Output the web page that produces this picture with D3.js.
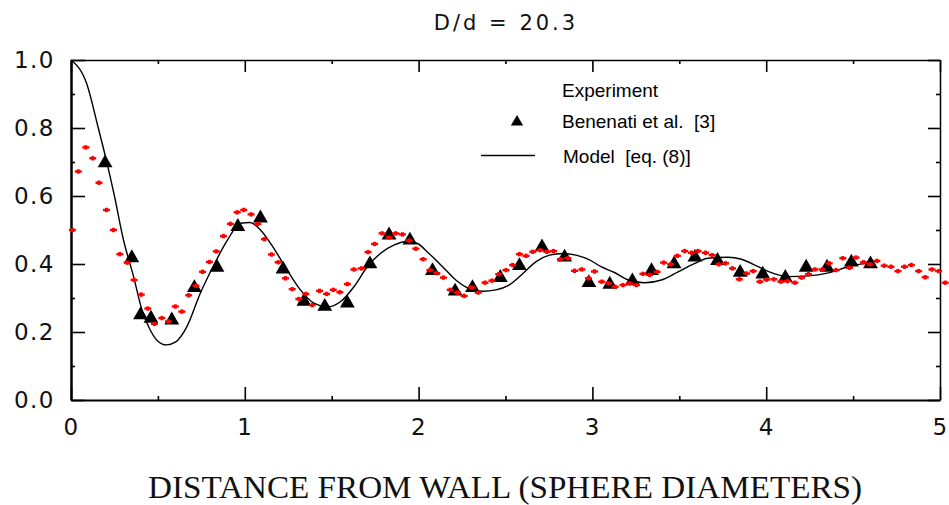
<!DOCTYPE html>
<html>
<head>
<meta charset="utf-8">
<script src="https://cdn.jsdelivr.net/npm/d3@7"></script>
<style>
body { margin: 0; background: #fff; }
</style>
</head>
<body>
<script>
// values
var xTicks = [0, 1, 2, 3, 4, 5];
var xMinor = [0.5, 1.5, 2.5, 3.5, 4.5];
var yTicks = [0, 0.2, 0.4, 0.6, 0.8, 1.0];
var yMinor = [0.1, 0.3, 0.5, 0.7, 0.9];

// Benenati et al. [3] (triangles)
var expX = [0.196, 0.35, 0.40, 0.46, 0.58, 0.71, 0.84, 0.96, 1.09, 1.22, 1.34, 1.46, 1.59,
  1.72, 1.83, 1.95, 2.08, 2.21, 2.31, 2.47, 2.58, 2.71, 2.84, 2.98, 3.10, 3.23, 3.34,
  3.47, 3.59, 3.72, 3.85, 3.98, 4.11, 4.23, 4.35, 4.49, 4.60];
var expY = [0.697, 0.418, 0.25, 0.24, 0.235, 0.33, 0.39, 0.51, 0.535, 0.385, 0.29, 0.275, 0.285,
  0.40, 0.485, 0.47, 0.38, 0.32, 0.33, 0.36, 0.395, 0.45, 0.42, 0.345, 0.34, 0.35, 0.38,
  0.40, 0.42, 0.41, 0.375, 0.37, 0.36, 0.39, 0.39, 0.405, 0.40];

// red dotted series
var redX = [0.008, 0.042, 0.085, 0.125, 0.161, 0.204, 0.244, 0.281, 0.323, 0.363, 0.404, 0.442,
  0.480, 0.523, 0.561, 0.600, 0.638, 0.677, 0.719, 0.757, 0.796, 0.836, 0.877, 0.917, 0.956,
  0.994, 1.036, 1.075, 1.113, 1.153, 1.192, 1.234, 1.273, 1.311, 1.351, 1.388, 1.430, 1.471,
  1.509, 1.547, 1.590, 1.628, 1.671, 1.709, 1.747, 1.790, 1.830, 1.868, 1.907, 1.945, 1.984,
  2.026, 2.065, 2.105, 2.143, 2.182, 2.224, 2.262, 2.305, 2.343, 2.382, 2.422, 2.461, 2.503,
  2.541, 2.580, 2.618, 2.657, 2.699, 2.738, 2.776, 2.816, 2.859, 2.897, 2.939, 2.977, 3.012,
  3.054, 3.093, 3.131, 3.176, 3.214, 3.253, 3.291, 3.329, 3.372, 3.410, 3.450, 3.489, 3.531,
  3.570, 3.608, 3.651, 3.689, 3.727, 3.766, 3.806, 3.845, 3.887, 3.925, 3.964, 4.002, 4.044,
  4.085, 4.123, 4.165, 4.204, 4.243, 4.281, 4.323, 4.362, 4.402, 4.441, 4.479, 4.517, 4.560,
  4.598, 4.637, 4.679, 4.718, 4.758, 4.796, 4.835, 4.877, 4.915, 4.954, 4.992, 5.030];
var redY = [0.50, 0.672, 0.743, 0.711, 0.639, 0.559, 0.50, 0.429, 0.404, 0.353, 0.310, 0.269,
  0.224, 0.241, 0.231, 0.275, 0.260, 0.308, 0.336, 0.377, 0.406, 0.437, 0.482, 0.518, 0.552,
  0.559, 0.546, 0.518, 0.473, 0.428, 0.405, 0.358, 0.326, 0.297, 0.312, 0.279, 0.321, 0.312,
  0.324, 0.317, 0.341, 0.384, 0.387, 0.435, 0.459, 0.490, 0.478, 0.490, 0.487, 0.469, 0.445,
  0.414, 0.382, 0.373, 0.360, 0.324, 0.316, 0.306, 0.331, 0.316, 0.345, 0.351, 0.370, 0.382,
  0.397, 0.429, 0.424, 0.436, 0.441, 0.436, 0.438, 0.414, 0.417, 0.380, 0.384, 0.358, 0.378,
  0.348, 0.343, 0.333, 0.338, 0.343, 0.338, 0.371, 0.368, 0.377, 0.404, 0.399, 0.424, 0.438,
  0.433, 0.438, 0.433, 0.426, 0.399, 0.402, 0.387, 0.355, 0.372, 0.379, 0.348, 0.354, 0.355,
  0.348, 0.350, 0.345, 0.360, 0.370, 0.384, 0.384, 0.402, 0.382, 0.417, 0.389, 0.419, 0.405,
  0.399, 0.409, 0.395, 0.392, 0.379, 0.392, 0.397, 0.379, 0.361, 0.384, 0.379, 0.345];

// Model [eq. (8)] (solid line)
var modelX = [0, 0.09, 0.157, 0.20, 0.25, 0.30, 0.36, 0.41, 0.456, 0.494, 0.55, 0.60, 0.667,
  0.744, 0.82, 0.90, 0.975, 1.03, 1.09, 1.167, 1.244, 1.32, 1.40, 1.474, 1.55, 1.628, 1.705,
  1.78, 1.86, 1.936, 1.99, 2.06, 2.138, 2.214, 2.29, 2.368, 2.445, 2.52, 2.60, 2.676, 2.753,
  2.83, 2.906, 2.983, 3.05, 3.127, 3.205, 3.30, 3.397, 3.493, 3.589, 3.666, 3.78, 3.858,
  3.954, 4.05, 4.127, 4.243, 4.358, 4.473, 4.62];
var modelY = [1.0, 0.931, 0.800, 0.712, 0.600, 0.475, 0.363, 0.262, 0.206, 0.176, 0.162, 0.170,
  0.216, 0.314, 0.395, 0.470, 0.520, 0.522, 0.500, 0.446, 0.382, 0.324, 0.284, 0.274, 0.289,
  0.333, 0.392, 0.431, 0.456, 0.466, 0.461, 0.431, 0.392, 0.353, 0.328, 0.320, 0.324, 0.338,
  0.372, 0.407, 0.426, 0.431, 0.426, 0.412, 0.392, 0.375, 0.353, 0.345, 0.353, 0.377, 0.402,
  0.417, 0.420, 0.414, 0.392, 0.371, 0.363, 0.365, 0.374, 0.392, 0.407];

var width = 949, height = 505;
var svg = d3.select('body').append('svg')
  .attr('width', width)
  .attr('height', height);

var x = d3.scaleLinear().domain([0, 5]).range([71, 940]);
var y = d3.scaleLinear().domain([0, 1]).range([400, 60]);

var tickFont = '"DejaVu Sans", sans-serif';

// frame + ticks (ticks point inward)
var leftAx = svg.append('g').attr('transform', 'translate(71,0)')
  .call(d3.axisLeft(y).tickValues(yTicks).tickSize(-14).tickSizeOuter(0)
    .tickPadding(16).tickFormat(d3.format('.1f')));
leftAx.select('.domain').attr('stroke-width', 2.5);
svg.append('g').attr('transform', 'translate(71,0)')
  .call(d3.axisLeft(y).tickValues(yMinor).tickSize(-4).tickFormat(''))
  .select('.domain').remove();

var bottomAx = svg.append('g').attr('transform', 'translate(0,400)')
  .call(d3.axisBottom(x).tickValues(xTicks).tickSize(-13).tickSizeOuter(0)
    .tickPadding(19).tickFormat(d3.format('d')));
bottomAx.select('.domain').attr('stroke-width', 2.2);
svg.append('g').attr('transform', 'translate(0,400)')
  .call(d3.axisBottom(x).tickValues(xMinor).tickSize(-4).tickFormat(''))
  .select('.domain').remove();

var topAx = svg.append('g').attr('transform', 'translate(0,60)')
  .call(d3.axisTop(x).tickValues(xTicks).tickSize(-12).tickSizeOuter(0).tickFormat(''));
topAx.select('.domain').attr('stroke-width', 1.5);
svg.append('g').attr('transform', 'translate(0,60)')
  .call(d3.axisTop(x).tickValues(xMinor).tickSize(-4).tickFormat(''))
  .select('.domain').remove();

var rightAx = svg.append('g').attr('transform', 'translate(940,0)')
  .call(d3.axisRight(y).tickValues(yTicks).tickSize(-12).tickSizeOuter(0).tickFormat(''));
rightAx.select('.domain').attr('stroke-width', 1.5);
svg.append('g').attr('transform', 'translate(940,0)')
  .call(d3.axisRight(y).tickValues(yMinor).tickSize(-4).tickFormat(''))
  .select('.domain').remove();

svg.selectAll('.tick line').attr('stroke', '#000').attr('stroke-width', 1.6);
svg.selectAll('.tick text')
  .attr('font-family', tickFont)
  .attr('font-size', 23)
  .attr('letter-spacing', 1.5)
  .attr('fill', '#111');

// model line
var line = d3.line()
  .x(function(d) { return x(d[0]); })
  .y(function(d) { return y(d[1]); })
  .curve(d3.curveMonotoneX);
svg.append('path')
  .datum(d3.zip(modelX, modelY))
  .attr('d', line)
  .attr('fill', 'none')
  .attr('stroke', '#000')
  .attr('stroke-width', 1.4);

// triangles
var tri = d3.symbol().type(d3.symbolTriangle).size(95);
svg.selectAll('path.exp')
  .data(d3.zip(expX, expY))
  .enter().append('path')
    .attr('class', 'exp')
    .attr('d', tri)
    .attr('transform', function(d) { return 'translate(' + x(d[0]) + ',' + y(d[1]) + ')'; })
    .attr('fill', '#000');

// red dotted series
var red = svg.selectAll('g.red')
  .data(d3.zip(redX, redY))
  .enter().append('g')
    .attr('class', 'red')
    .attr('transform', function(d) { return 'translate(' + x(d[0]) + ',' + y(d[1]) + ')'; });
red.append('rect').attr('x', -3.5).attr('y', -1.2).attr('width', 7).attr('height', 2.4).attr('fill', '#ff0000');
red.append('rect').attr('x', -1.5).attr('y', -2.2).attr('width', 3).attr('height', 4.4).attr('fill', '#ff0000');

// legend
var legFont = '"Liberation Sans", Arial, sans-serif';
svg.append('text').attr('x', 562).attr('y', 97).text('Experiment')
  .attr('font-family', legFont).attr('font-size', 19);
svg.append('path').attr('d', d3.symbol().type(d3.symbolTriangle).size(65))
  .attr('transform', 'translate(517,122)').attr('fill', '#000');
svg.append('text').attr('x', 562).attr('y', 128).text('Benenati et al.  [3]')
  .attr('font-family', legFont).attr('font-size', 19).style('white-space', 'pre');
svg.append('line').attr('x1', 481).attr('x2', 535).attr('y1', 155.5).attr('y2', 155.5)
  .attr('stroke', '#000').attr('stroke-width', 1.3);
svg.append('text').attr('x', 563).attr('y', 163).text('Model  [eq. (8)]')
  .attr('font-family', legFont).attr('font-size', 19).style('white-space', 'pre');

// title
svg.append('text').attr('x', 506).attr('y', 30).attr('text-anchor', 'middle')
  .text('D/d = 20.3')
  .attr('font-family', tickFont).attr('font-size', 21).attr('letter-spacing', 3)
  .attr('fill', '#111');

// x axis title
svg.append('text').attr('x', 148).attr('y', 498)
  .attr('textLength', 714).attr('lengthAdjust', 'spacingAndGlyphs')
  .text('DISTANCE FROM WALL (SPHERE DIAMETERS)')
  .attr('font-family', '"Liberation Serif", "Times New Roman", serif')
  .attr('font-size', 31).attr('fill', '#111');
</script>
</body>
</html>
